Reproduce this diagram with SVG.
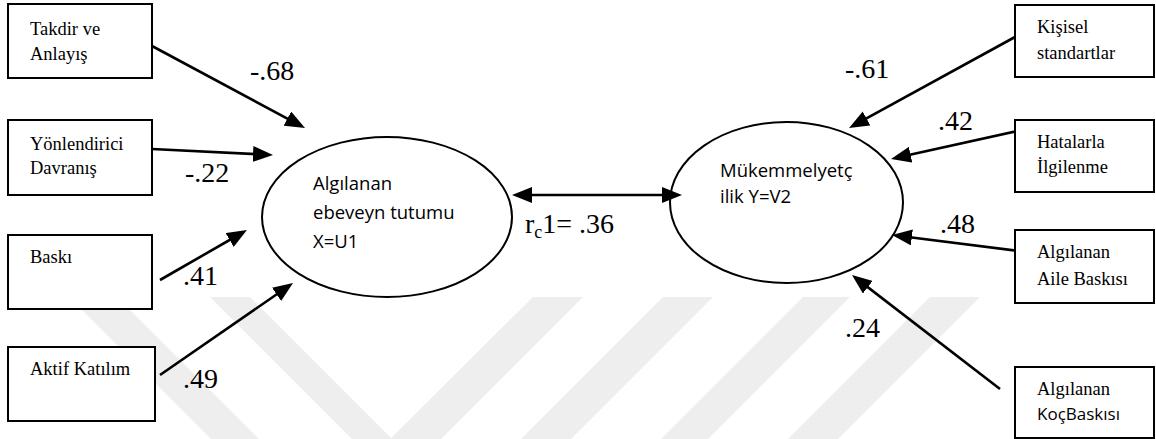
<svg xmlns="http://www.w3.org/2000/svg" width="1156" height="439" viewBox="0 0 1156 439">
<style>
.wm{fill:#eeeeee;stroke:none}
.box{fill:#ffffff;stroke:#000;stroke-width:2}
.ell{fill:none;stroke:#000;stroke-width:2}
.bt{font-family:"Liberation Serif",serif;font-size:18.5px;fill:#000}
.bs{font-family:"Open Sans","Liberation Sans",sans-serif;font-size:17px;fill:#000}
.et{font-family:"Open Sans","Liberation Sans",sans-serif;font-size:18.5px;fill:#000}
.coef{font-family:"Liberation Serif",serif;font-size:28px;fill:#000}
.arr{stroke:#000;stroke-width:2.6;fill:none;marker-end:url(#ah)}
</style>
<defs>
<marker id="ah" markerUnits="userSpaceOnUse" markerWidth="20" markerHeight="16" refX="10" refY="8" orient="auto-start-reverse" viewBox="0 0 20 16">
<path d="M0,0 L20,8 L0,16 z" fill="#000"/>
</marker>
</defs>
<g id="watermark">
<polygon class="wm" points="69,297 117,297 259,439 211,439"/>
<polygon class="wm" points="210,297 250,297 391,438 533,297 583,297 441,439 352,439"/>
<polygon class="wm" points="663,297 713,297 571,439 521,439"/>
<polygon class="wm" points="803,297 850,297 708,439 661,439"/>
<polygon class="wm" points="930,297 980,297 838,439 788,439"/>
</g>
<g id="connectors">
<line class="arr" x1="152" y1="46" x2="296.2" y2="123.3"/>
<line class="arr" x1="152" y1="149" x2="263" y2="154.5"/>
<line class="arr" x1="160" y1="280" x2="238.3" y2="235"/>
<line class="arr" x1="160" y1="375" x2="284.8" y2="288.7"/>
<line class="arr" x1="522" y1="195" x2="672" y2="195" marker-start="url(#ah)"/>
<line class="arr" x1="1015" y1="37" x2="857.8" y2="123.2"/>
<line class="arr" x1="1022" y1="130" x2="900.8" y2="156.8"/>
<line class="arr" x1="1027" y1="252" x2="901.9" y2="236.2"/>
<line class="arr" x1="1000" y1="389" x2="859.9" y2="281.1"/>
</g>
<g id="labels">
<text class="coef" x="250" y="80">-.68</text>
<text class="coef" x="185" y="182">-.22</text>
<text class="coef" x="183" y="285">.41</text>
<text class="coef" x="183" y="388">.49</text>
<text class="coef" x="525" y="233">r<tspan font-size="18" dy="5">c</tspan><tspan dy="-5">1= .36</tspan></text>
<text class="coef" x="845" y="78">-.61</text>
<text class="coef" x="938" y="130">.42</text>
<text class="coef" x="940" y="233">.48</text>
<text class="coef" x="845" y="337">.24</text>
</g>
<g id="node-takdir">
<rect class="box" x="8" y="4" width="144" height="74"/>
<text class="bt" x="30" y="35">Takdir ve</text>
<text class="bt" x="30" y="60">Anlayış</text>
</g>
<g id="node-yonlendirici">
<rect class="box" x="8" y="120" width="144" height="75"/>
<text class="bt" x="30" y="150">Yönlendirici</text>
<text class="bt" x="30" y="174">Davranış</text>
</g>
<g id="node-baski">
<rect class="box" x="8" y="235" width="144" height="74"/>
<text class="bt" x="30" y="263">Baskı</text>
</g>
<g id="node-aktif">
<rect class="box" x="8" y="347" width="147" height="74"/>
<text class="bt" x="30" y="375">Aktif Katılım</text>
</g>
<g id="node-ebeveyn">
<ellipse class="ell" cx="387" cy="217" rx="125" ry="80"/>
<text class="et" x="313" y="190">Algılanan</text>
<text class="et" x="313" y="219">ebeveyn tutumu</text>
<text class="et" x="313" y="248" font-size="17">X=U1</text>
</g>
<g id="node-mukemmel">
<ellipse class="ell" cx="786.5" cy="202.5" rx="116.5" ry="80.5"/>
<text class="et" x="720" y="177" font-size="21">Mükemmelyetç</text>
<text class="et" x="720" y="203" font-size="17.5">ilik Y=V2</text>
</g>
<g id="node-kisisel">
<rect class="box" x="1015" y="5" width="139" height="72"/>
<text class="bt" x="1037" y="33">Kişisel</text>
<text class="bt" x="1037" y="59">standartlar</text>
</g>
<g id="node-hatalarla">
<rect class="box" x="1015" y="120" width="139" height="72"/>
<text class="bt" x="1037" y="148">Hatalarla</text>
<text class="bt" x="1037" y="173">İlgilenme</text>
</g>
<g id="node-aile">
<rect class="box" x="1015" y="230" width="139" height="73"/>
<text class="bt" x="1037" y="258">Algılanan</text>
<text class="bt" x="1037" y="285">Aile Baskısı</text>
</g>
<g id="node-koc">
<rect class="box" x="1015" y="367" width="139" height="71"/>
<text class="bt" x="1037" y="395">Algılanan</text>
<text class="bs" x="1037" y="420">KoçBaskısı</text>
</g>
</svg>
